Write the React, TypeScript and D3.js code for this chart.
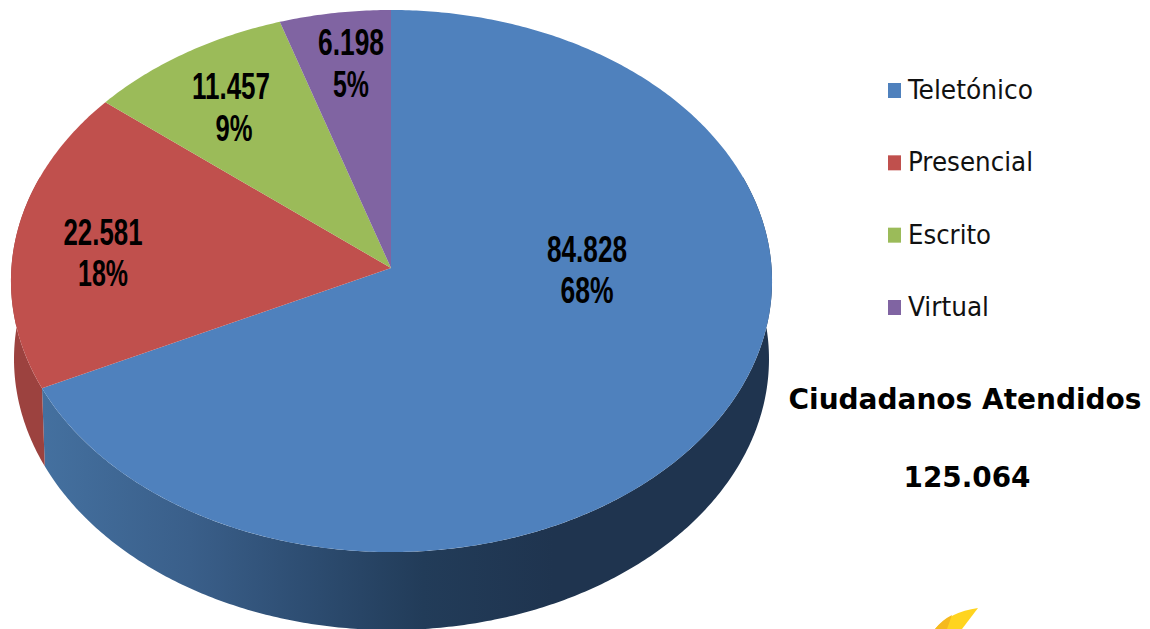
import React from "react";
import * as d3 from "d3";

const categories = ["Teletónico", "Presencial", "Escrito", "Virtual"];
const values = [84828, 22581, 11457, 6198];
const valueLabels = ["84.828", "22.581", "11.457", "6.198"];
const percentLabels = ["68%", "18%", "9%", "5%"];
const colors = ["#4F81BD", "#C0504D", "#9BBB59", "#8064A2"];
const totalTitle = "Ciudadanos Atendidos";
const totalValue = "125.064";

// layout: label anchors [x, y of value line, y of percent line, value width, percent width]
const labelLayout = [
  [587, 262, 303, 80, 53],
  [103, 245, 286, 79, 50],
  [231, 99, 141, 78, 37],
  [351, 55, 97, 66, 36],
];
const legendWidths = [125, 125, 83, 81];

const CX = 391, CY = 268, AX_R = 380.6, AX_L = 379.6, AY = 270.4, K = 0.048, DEPTH = 78, RIM_SCALE = 0.992;

function project(theta: number): [number, number] {
  const x = Math.sin(theta), y = -Math.cos(theta);
  const w = 1 - K * y;
  return [CX + ((x < 0 ? AX_L : AX_R) * x) / w, CY + (AY * y) / w];
}

function arcPoints(a0: number, a1: number): [number, number][] {
  const n = Math.max(2, Math.ceil(Math.abs(a1 - a0) / 0.01));
  return d3.range(n + 1).map((i) => project(a0 + ((a1 - a0) * i) / n));
}

const line = d3.line();

export default function App() {
  const arcs = d3.pie<number>().sort(null)(values);
  const deg = Math.PI / 180;

  // the rim runs past both extremes; the part that overshoots is hidden under the top face
  const rimStart = 70 * deg, rimEnd = 290 * deg;
  const sides = arcs
    .map((a, i) => {
      const s = Math.max(a.startAngle, rimStart), e = Math.min(a.endAngle, rimEnd);
      if (e <= s) return null;
      const top = arcPoints(s, e);
      const bottom = top
        .map(([x, y]) => [CX + (x - CX) * RIM_SCALE, y + DEPTH] as [number, number])
        .reverse();
      return { i, d: line([...top, ...bottom])! + "Z" };
    })
    .filter(Boolean) as { i: number; d: string }[];

  const font = "'Liberation Sans Narrow','Liberation Sans',sans-serif";
  const condensed = "'DejaVu Sans Condensed','DejaVu Sans',sans-serif";
  const legendY = d3.scalePoint<string>().domain(categories).range([90, 307]);

  return (
    <svg
      width={1150}
      height={629}
      viewBox="0 0 1150 629"
      style={{ position: "absolute", left: 0, top: 0, background: "#fff" }}
    >
      <defs>
        <linearGradient id="sideBlue" gradientUnits="userSpaceOnUse" x1={44} x2={772} y1={0} y2={0}>
          <stop offset="0" stopColor="#44709F" />
          <stop offset="0.2" stopColor="#3A5F8A" />
          <stop offset="0.35" stopColor="#2E4E73" />
          <stop offset="0.52" stopColor="#223C59" />
          <stop offset="0.7" stopColor="#1F344F" />
          <stop offset="1" stopColor="#1F344F" />
        </linearGradient>
      </defs>

      {sides.map((s) => (
        <path key={s.i} d={s.d} fill={s.i === 0 ? "url(#sideBlue)" : "#9C423F"} />
      ))}

      {arcs.map((a, i) => (
        <path
          key={i}
          d={line([[CX, CY], ...arcPoints(a.startAngle, a.endAngle)])! + "Z"}
          fill={colors[i]}
        />
      ))}

      {labelLayout.map(([x, y1, y2, w1, w2], i) => (
        <g key={i} fontFamily={font} fontWeight={700} fontSize={37} fill="#000" textAnchor="middle">
          <text x={x} y={y1} textLength={w1} lengthAdjust="spacingAndGlyphs">{valueLabels[i]}</text>
          <text x={x + (i === 2 ? 3 : 0)} y={y2} textLength={w2} lengthAdjust="spacingAndGlyphs">{percentLabels[i]}</text>
        </g>
      ))}

      {categories.map((c, i) => {
        const y = legendY(c)!;
        return (
          <g key={c}>
            <rect x={888} y={y - 7} width={13} height={15} fill={colors[i]} />
            <text
              x={908}
              y={y + 9}
              fontFamily={condensed}
              fontSize={26}
              fill="#111"
              textLength={legendWidths[i]}
              lengthAdjust="spacingAndGlyphs"
            >
              {c}
            </text>
          </g>
        );
      })}

      <g fontFamily={condensed} fontWeight={700} fontSize={29} fill="#000" textAnchor="middle">
        <text x={965} y={409} textLength={353} lengthAdjust="spacingAndGlyphs">{totalTitle}</text>
        <text x={967} y={487} textLength={127} lengthAdjust="spacingAndGlyphs">{totalValue}</text>
      </g>

      <path d="M935,629 Q950,612 978,608 L962,629Z" fill="#FFD41F" />
      <path d="M935,629 Q942,620 952,615 L947,629Z" fill="#F5B91E" />
    </svg>
  );
}
